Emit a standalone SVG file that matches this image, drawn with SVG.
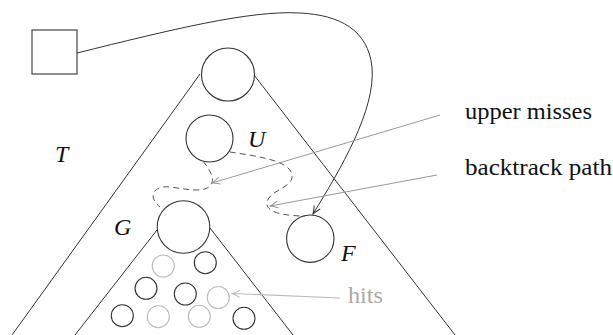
<svg xmlns="http://www.w3.org/2000/svg" width="613" height="335" viewBox="0 0 613 335">
<style>
.ln{fill:none;stroke:#333;stroke-width:1}
.nd{fill:none;stroke:#333;stroke-width:1.1}
.hit{fill:none;stroke:#bbb;stroke-width:1.1}
.dash{fill:none;stroke:#555;stroke-width:1;stroke-dasharray:6,4}
.gl{fill:none;stroke:#999;stroke-width:1}
</style>
<defs>
<marker id="ad" viewBox="-9 -5 10 10" refX="0" refY="0" markerWidth="10" markerHeight="10" markerUnits="userSpaceOnUse" orient="auto">
<path d="M-8,-3.5 Q-3,-0.8 0,0 Q-3,0.8 -8,3.5" fill="none" stroke="#333" stroke-width="1"/>
</marker>
<marker id="ag" viewBox="-9 -5 10 10" refX="0" refY="0" markerWidth="10" markerHeight="10" markerUnits="userSpaceOnUse" orient="auto">
<path d="M-8,-3.5 Q-3,-0.8 0,0 Q-3,0.8 -8,3.5" fill="none" stroke="#999" stroke-width="1"/>
</marker>
<marker id="ah" viewBox="-9 -5 10 10" refX="0" refY="0" markerWidth="10" markerHeight="10" markerUnits="userSpaceOnUse" orient="auto">
<path d="M-8,-3.5 Q-3,-0.8 0,0 Q-3,0.8 -8,3.5" fill="none" stroke="#bbb" stroke-width="1"/>
</marker>
</defs>
<g id="tree-T">
<path class="ln" d="M200,74 L12,335 M254,75 L455,335"/>
<text font-family="Liberation Serif, serif" font-style="italic" font-size="24" fill="#111" x="55" y="162">T</text>
</g>
<g id="tree-G">
<path class="ln" d="M157,230 L75,335 M210,228 L293,335"/>
</g>
<g id="root-box"><rect class="nd" x="32" y="30" width="45" height="44"/></g>
<g id="root"><circle class="nd" cx="228" cy="74.5" r="26.5"/></g>
<g id="node-U"><circle class="nd" cx="209.5" cy="138.5" r="23.5"/><text font-family="Liberation Serif, serif" font-style="italic" font-size="24" fill="#111" x="248" y="147">U</text></g>
<g id="node-G"><circle class="nd" cx="183.5" cy="227" r="26.3"/><text font-family="Liberation Serif, serif" font-style="italic" font-size="24" fill="#111" x="114" y="235">G</text></g>
<g id="node-F"><circle class="nd" cx="310.3" cy="238.7" r="23.7"/><text font-family="Liberation Serif, serif" font-style="italic" font-size="24" fill="#111" x="341" y="261">F</text></g>
<g id="leaves">
<circle class="hit" cx="163.3" cy="266" r="11"/>
<circle class="nd" cx="205.3" cy="262.7" r="11"/>
<circle class="nd" cx="146" cy="288.3" r="11"/>
<circle class="nd" cx="185.3" cy="294" r="11"/>
<circle class="hit" cx="218.3" cy="297.5" r="11"/>
<circle class="nd" cx="122.3" cy="315.7" r="11"/>
<circle class="hit" cx="158.3" cy="316.7" r="11"/>
<circle class="hit" cx="199.3" cy="316.3" r="11"/>
<circle class="nd" cx="244" cy="318.3" r="11"/>
</g>
<g id="connectors">
<path class="ln" d="M77,53 C170,30 250,10 300,13 C340,15 368,30 372,67 C376,110 340,170 313,214" marker-end="url(#ad)"/>
<path class="dash" d="M203,161 C210,170 216,180 210,186 C203,193 185,189 170,187 C152,185 148,198 160,207"/>
<path class="dash" d="M230,152 C255,156 290,160 292,175 C294,188 268,190 267,203 C266,214 290,216 305,216"/>
<path class="gl" d="M440,115 L212,183" marker-end="url(#ag)"/>
<path class="gl" d="M437,175 L270,206" marker-end="url(#ag)"/>
<path class="hit" d="M340,298 L232,293.5" marker-end="url(#ah)"/>
</g>
<g id="labels">
<text font-family="Liberation Serif, serif" font-size="23" fill="#111" x="465" y="119" textLength="127" lengthAdjust="spacingAndGlyphs">upper misses</text>
<text font-family="Liberation Serif, serif" font-size="23" fill="#111" x="465" y="175" textLength="147" lengthAdjust="spacingAndGlyphs">backtrack path</text>
<text font-family="Liberation Serif, serif" font-size="23" fill="#aaa" x="348" y="303" textLength="35" lengthAdjust="spacingAndGlyphs">hits</text>
</g>
</svg>
